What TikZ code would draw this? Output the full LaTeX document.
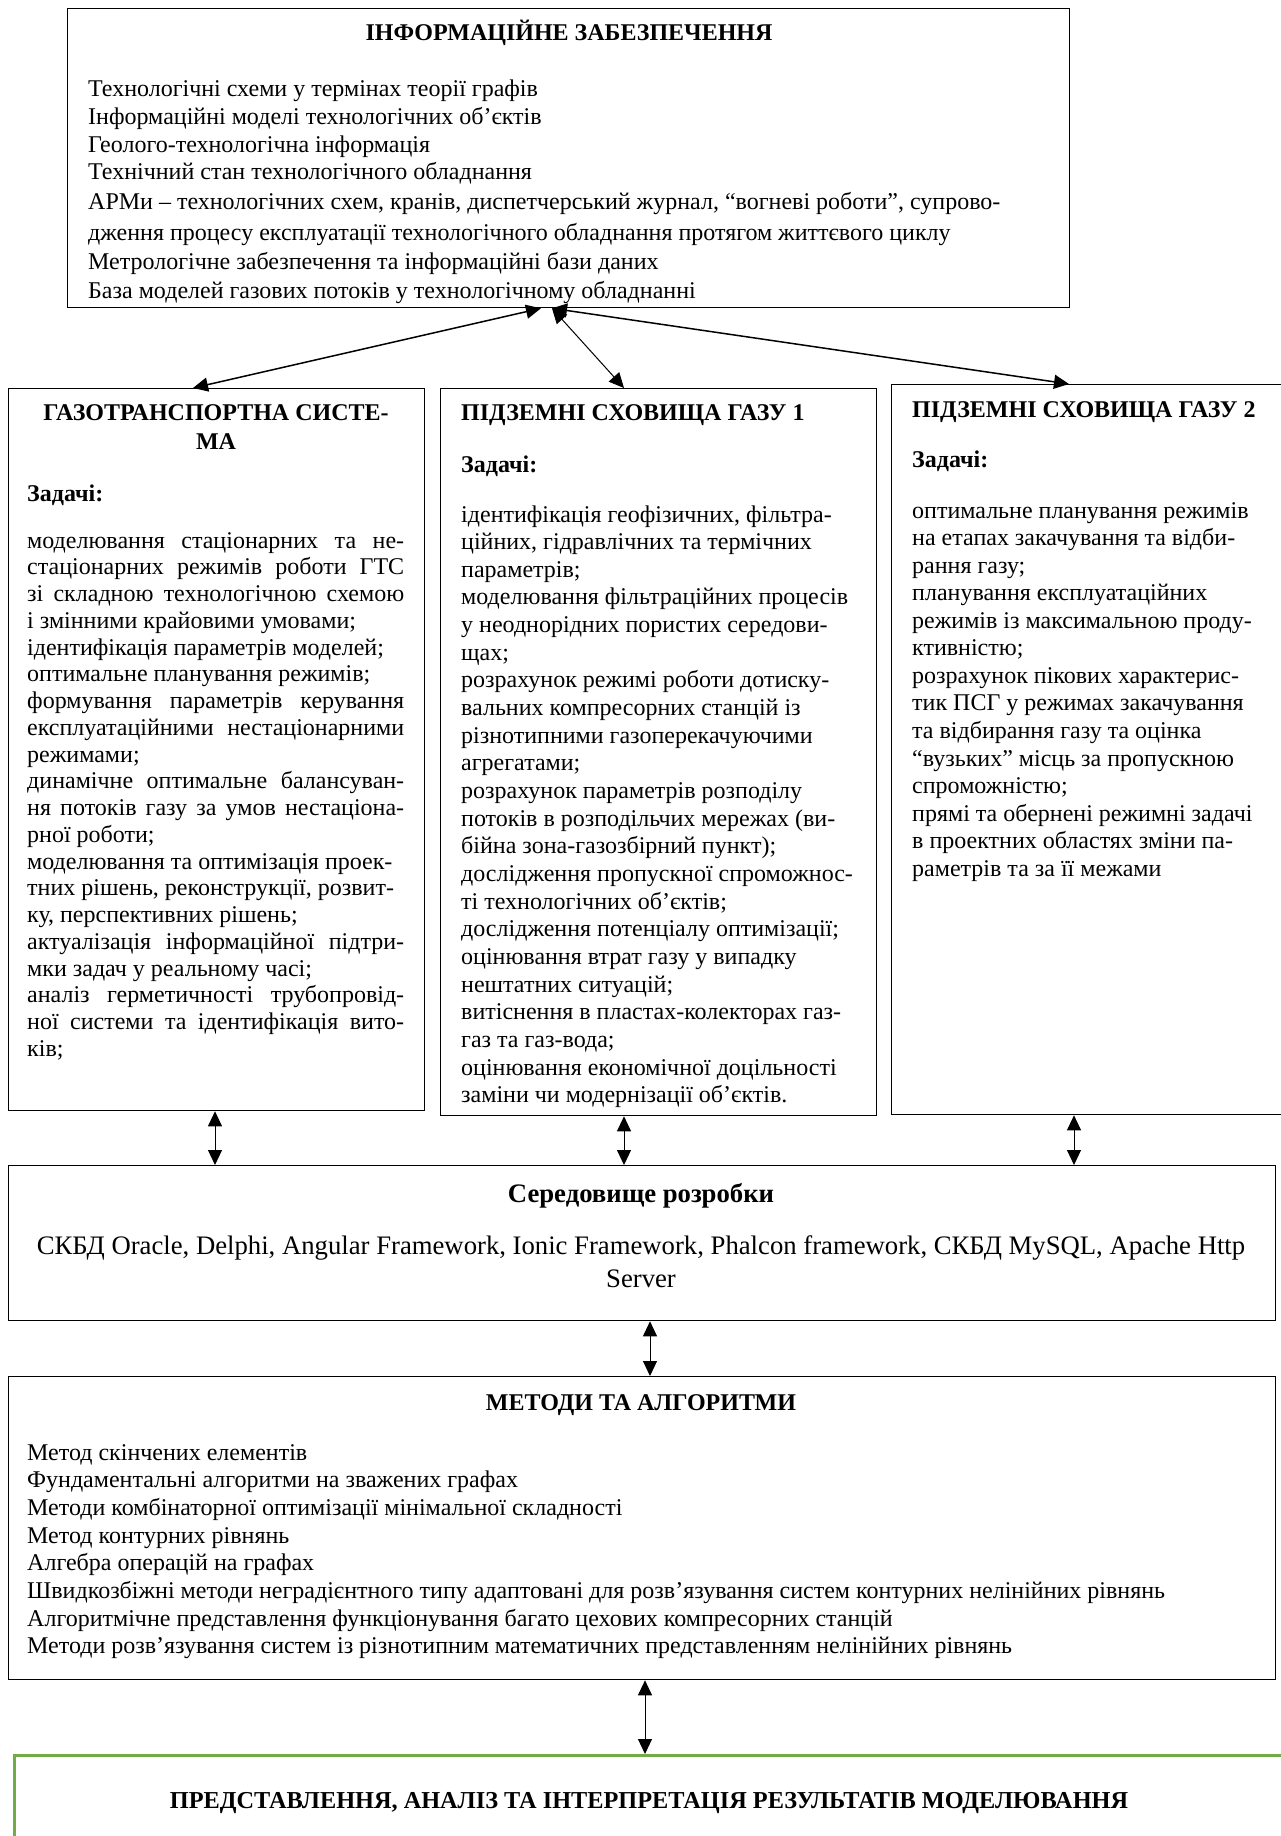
\documentclass[tikz,border=0pt]{standalone}
\usepackage{fontspec}
\setmainfont{Liberation Serif}
\usetikzlibrary{arrows.meta}

\definecolor{resgreen}{RGB}{112,173,71}
\newcommand{\jl}[1]{\makebox[377pt][s]{#1}}

\tikzset{
  box/.style={draw, line width=1.3pt, anchor=north west, inner sep=0pt},
  txt/.style={inner sep=0pt, anchor=base west, font=\fontsize{24}{28}\selectfont},
  head/.style={inner sep=0pt, anchor=base, font=\fontsize{24}{28}\selectfont\bfseries},
  headl/.style={head, anchor=base west},
  big/.style={font=\fontsize{26.7}{31}\selectfont},
  link/.style={<->, line width=1pt}
}

\begin{document}
\begin{tikzpicture}[x=1pt,y=-1pt,>={Triangle[length=15pt,width=14pt]}]
        \useasboundingbox (0,0) rectangle (1280,1836);

        % Boxes
        \node[box, minimum width=1002pt, minimum height=299pt] (info) at (67,8) {};
        \node[box, minimum width=416pt, minimum height=722pt] (gts) at (8,388) {};
        \node[box, minimum width=436pt, minimum height=727pt] (psg1) at (440,388) {};
        \node[box, minimum width=399pt, minimum height=730pt] (psg2) at (891,384) {};
        \node[box, minimum width=1267pt, minimum height=155pt] (sered) at (8,1165) {};
        \node[box, minimum width=1267pt, minimum height=303pt] (metody) at (8,1376) {};
        \node[box, draw=resgreen, line width=2.5pt, minimum width=1290pt, minimum height=110pt] (result) at (13,1754) {};

        % Information support
        \node[head] (infotitle) at (569,41) {ІНФОРМАЦІЙНЕ ЗАБЕЗПЕЧЕННЯ};
        \foreach \y/\t [count=\i from 0] in {
          96/{Технологічні схеми у термінах теорії графів},
          124/{Інформаційні моделі технологічних об’єктів},
          152/{Геолого-технологічна інформація},
          179/{Технічний стан технологічного обладнання},
          209/{АРМи – технологічних схем, кранів, диспетчерський журнал, “вогневі роботи”, супрово-},
          240/{дження процесу експлуатації технологічного обладнання протягом життєвого циклу},
          269/{Метрологічне забезпечення та інформаційні бази даних},
          298/{База моделей газових потоків у технологічному обладнанні}} {
          \node[txt] (info\i) at (88,\y) {\t};
        }

        % Gas transport system
        \node[head] (gtstitle) at (216,420) {ГАЗОТРАНСПОРТНА СИСТЕ-};
        \node[head] (gtstitleb) at (216,449) {МА};
        \node[headl] (gtstask) at (27,501) {Задачі:};
        \foreach \t [count=\i from 0] in {
          {\jl{моделювання стаціонарних та не-}},
          {\jl{стаціонарних режимів роботи ГТС}},
          {\jl{зі складною технологічною схемою}},
          {і змінними крайовими умовами;},
          {ідентифікація параметрів моделей;},
          {оптимальне планування режимів;},
          {\jl{формування параметрів керування}},
          {\jl{експлуатаційними нестаціонарними}},
          {режимами;},
          {\jl{динамічне оптимальне балансуван-}},
          {\jl{ня потоків газу за умов нестаціона-}},
          {рної роботи;},
          {моделювання та оптимізація проек-},
          {тних рішень, реконструкції, розвит-},
          {ку, перспективних рішень;},
          {\jl{актуалізація інформаційної підтри-}},
          {мки задач у реальному часі;},
          {\jl{аналіз герметичності трубопровід-}},
          {\jl{ної системи та ідентифікація вито-}},
          {ків;}} {
          \node[txt] (gts\i) at (27,{548+26.75*\i}) {\t};
        }

        % Underground gas storage 1
        \node[headl] (psgatitle) at (461,420) {ПІДЗЕМНІ СХОВИЩА ГАЗУ 1};
        \node[headl] (psgatask) at (461,472) {Задачі:};
        \foreach \t [count=\i from 0] in {
          {ідентифікація геофізичних, фільтра-},
          {ційних, гідравлічних та термічних},
          {параметрів;},
          {моделювання фільтраційних процесів},
          {у неоднорідних пористих середови-},
          {щах;},
          {розрахунок режимі роботи дотиску-},
          {вальних компресорних станцій із},
          {різнотипними газоперекачуючими},
          {агрегатами;},
          {розрахунок параметрів розподілу},
          {потоків в розподільчих мережах (ви-},
          {бійна зона-газозбірний пункт);},
          {дослідження пропускної спроможнос-},
          {ті технологічних об’єктів;},
          {дослідження потенціалу оптимізації;},
          {оцінювання втрат газу у випадку},
          {нештатних ситуацій;},
          {витіснення в пластах-колекторах газ-},
          {газ та газ-вода;},
          {оцінювання економічної доцільності},
          {заміни чи модернізації об’єктів.}} {
          \node[txt] (psga\i) at (461,{522+27.66*\i}) {\t};
        }

        % Underground gas storage 2
        \node[headl] (psgbtitle) at (912,417) {ПІДЗЕМНІ СХОВИЩА ГАЗУ 2};
        \node[headl] (psgbtask) at (912,467) {Задачі:};
        \foreach \t [count=\i from 0] in {
          {оптимальне планування режимів},
          {на етапах закачування та відби-},
          {рання газу;},
          {планування експлуатаційних},
          {режимів із максимальною проду-},
          {ктивністю;},
          {розрахунок пікових характерис-},
          {тик ПСГ у режимах закачування},
          {та відбирання газу та оцінка},
          {“вузьких” місць за пропускною},
          {спроможністю;},
          {прямі та обернені режимні задачі},
          {в проектних областях зміни па-},
          {раметрів та за її межами}} {
          \node[txt] (psgb\i) at (912,{518+27.57*\i}) {\t};
        }

        % Development environment
        \node[head, font=\fontsize{26.7}{31}\selectfont\bfseries] (seredtitle) at (641,1202) {Середовище розробки};
        \node[txt, big, anchor=base] (sereda) at (641,1254) {СКБД Oracle, Delphi, Angular Framework, Ionic Framework, Phalcon framework, СКБД MySQL, Apache Http};
        \node[txt, big, anchor=base] (seredb) at (641,1287) {Server};

        % Methods and algorithms
        \node[head] (metodytitle) at (641,1410) {МЕТОДИ ТА АЛГОРИТМИ};
        \foreach \t [count=\i from 0] in {
          {Метод скінчених елементів},
          {Фундаментальні алгоритми на зважених графах},
          {Методи комбінаторної оптимізації мінімальної складності},
          {Метод контурних рівнянь},
          {Алгебра операцій на графах},
          {Швидкозбіжні методи неградієнтного типу адаптовані для розв’язування систем контурних нелінійних рівнянь},
          {Алгоритмічне представлення функціонування багато цехових компресорних станцій},
          {Методи розв’язування систем із різнотипним математичних представленням нелінійних рівнянь}} {
          \node[txt] (metody\i) at (27,{1460+27.7*\i}) {\t};
        }

        % Results
        \node[head, font=\fontsize{24.3}{28}\selectfont\bfseries] (resulttitle) at (649,1808) {ПРЕДСТАВЛЕННЯ, АНАЛІЗ ТА ІНТЕРПРЕТАЦІЯ РЕЗУЛЬТАТІВ МОДЕЛЮВАННЯ};

        % Links
        \draw[link, line width=1.5pt] ([xshift=474pt]info.south west) -- ([xshift=185pt]gts.north west);
        \draw[link] ([xshift=485pt]info.south west) -- ([xshift=184pt]psg1.north west);
        \draw[link, line width=1.5pt] ([xshift=485pt]info.south west) -- ([xshift=178pt]psg2.north west);
        \draw[link] ([xshift=207pt]gts.south west) -- ([xshift=207pt]sered.north west);
        \draw[link] ([xshift=184pt]psg1.south west) -- ([xshift=616pt]sered.north west);
        \draw[link] ([xshift=183pt]psg2.south west) -- ([xshift=1066pt]sered.north west);
        \draw[link] ([xshift=642pt]sered.south west) -- ([xshift=642pt]metody.north west);
        \draw[link] ([xshift=637pt]metody.south west) -- ([xshift=632pt]result.north west);
\end{tikzpicture}
\end{document}
